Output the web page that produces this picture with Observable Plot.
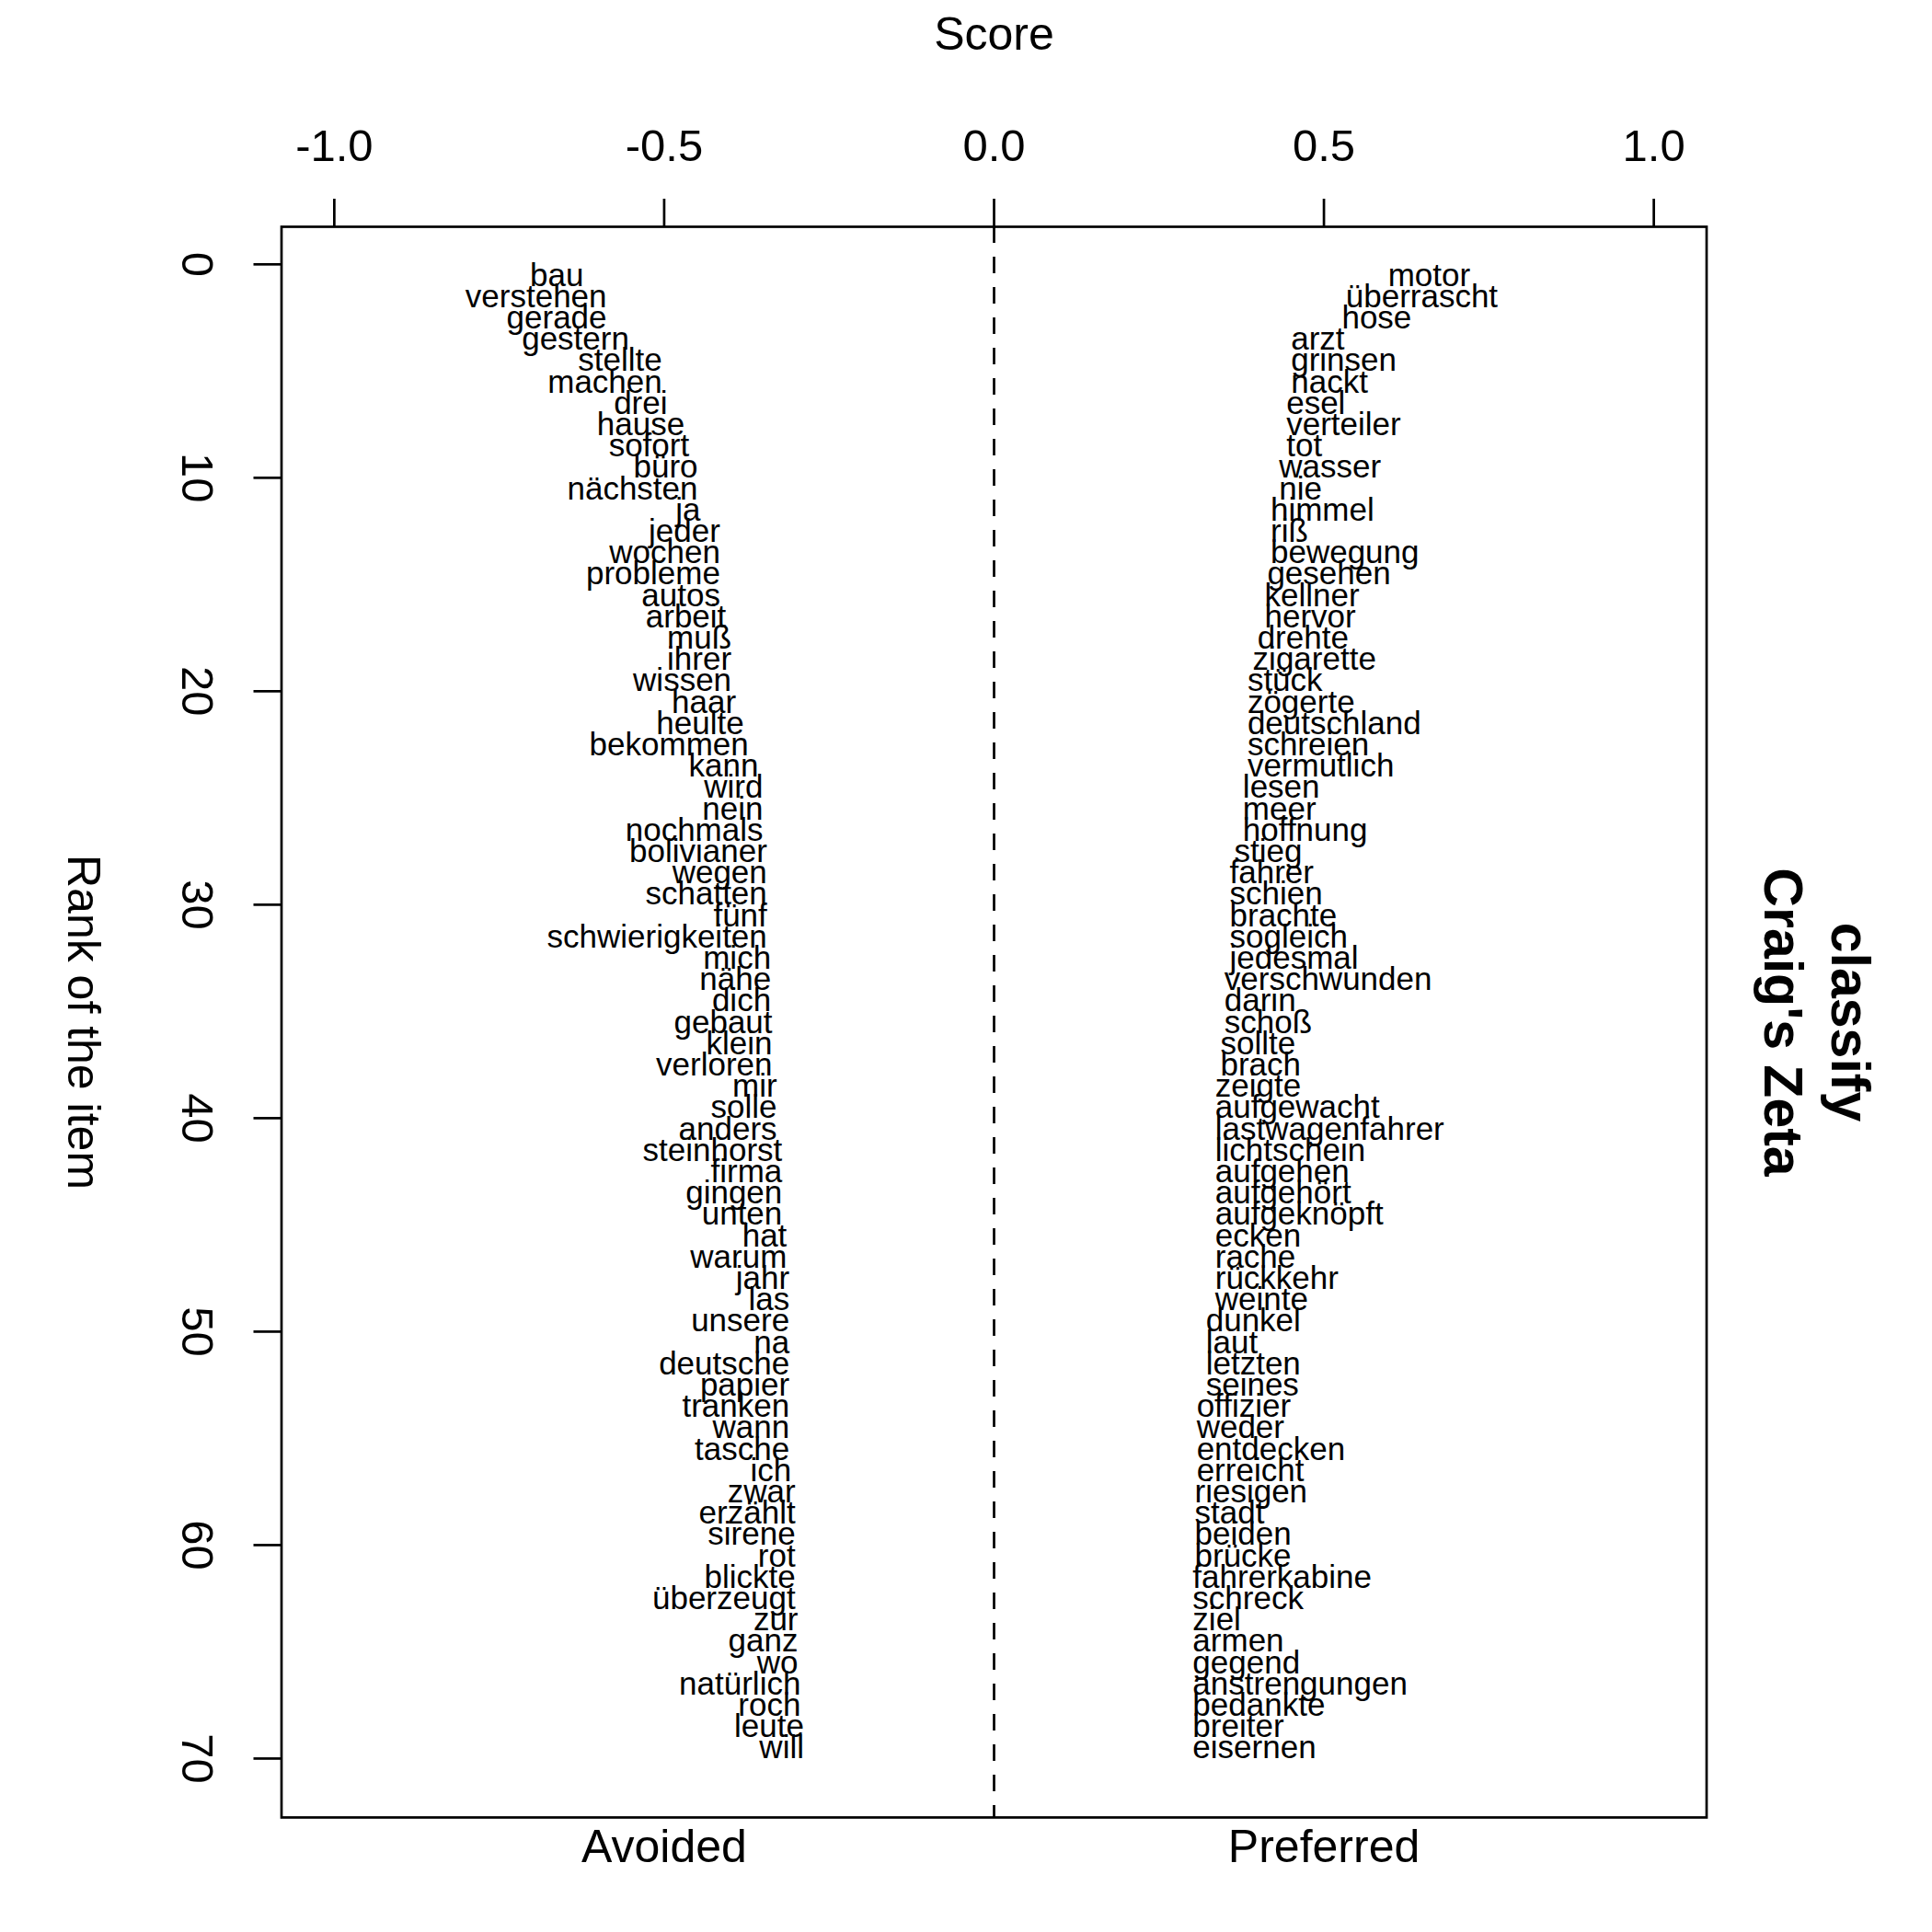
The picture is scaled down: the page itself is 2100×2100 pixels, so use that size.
<!DOCTYPE html>
<html>
<head>
<meta charset="utf-8">
<script src="https://cdn.jsdelivr.net/npm/d3@7"></script>
<script src="https://cdn.jsdelivr.net/npm/@observablehq/plot@0.6"></script>
<style>
  html, body { margin: 0; padding: 0; background: white; }
</style>
</head>
<body>
<div id="chart"></div>
<script>
const avoidedWords = ["bau","verstehen","gerade","gestern","stellte","machen","drei","hause","sofort","büro",
  "nächsten","ja","jeder","wochen","probleme","autos","arbeit","muß","ihrer","wissen",
  "haar","heulte","bekommen","kann","wird","nein","nochmals","bolivianer","wegen","schatten",
  "fünf","schwierigkeiten","mich","nähe","dich","gebaut","klein","verloren","mir","solle",
  "anders","steinhorst","firma","gingen","unten","hat","warum","jahr","las","unsere",
  "na","deutsche","papier","tranken","wann","tasche","ich","zwar","erzählt","sirene",
  "rot","blickte","überzeugt","zur","ganz","wo","natürlich","roch","leute","will"];
const avoidedScores = [-0.622,-0.587,-0.587,-0.553,-0.503,-0.503,-0.495,-0.469,-0.462,-0.449,
  -0.449,-0.445,-0.415,-0.415,-0.415,-0.415,-0.406,-0.398,-0.398,-0.398,
  -0.391,-0.379,-0.372,-0.357,-0.350,-0.350,-0.350,-0.344,-0.344,-0.344,
  -0.344,-0.344,-0.338,-0.338,-0.338,-0.336,-0.336,-0.336,-0.329,-0.329,
  -0.329,-0.321,-0.321,-0.321,-0.321,-0.314,-0.314,-0.310,-0.310,-0.310,
  -0.310,-0.310,-0.310,-0.310,-0.310,-0.310,-0.307,-0.301,-0.301,-0.301,
  -0.301,-0.301,-0.301,-0.297,-0.297,-0.297,-0.293,-0.293,-0.288,-0.288];

const preferredWords = ["motor","überrascht","hose","arzt","grinsen","nackt","esel","verteiler","tot","wasser",
  "nie","himmel","riß","bewegung","gesehen","kellner","hervor","drehte","zigarette","stück",
  "zögerte","deutschland","schreien","vermutlich","lesen","meer","hoffnung","stieg","fahrer","schien",
  "brachte","sogleich","jedesmal","verschwunden","darin","schoß","sollte","brach","zeigte","aufgewacht",
  "lastwagenfahrer","lichtschein","aufgehen","aufgehört","aufgeknöpft","ecken","rache","rückkehr","weinte","dunkel",
  "laut","letzten","seines","offizier","weder","entdecken","erreicht","riesigen","stadt","beiden",
  "brücke","fahrerkabine","schreck","ziel","armen","gegend","anstrengungen","bedankte","breiter","eisernen"];
const preferredScores = [0.597,0.533,0.527,0.450,0.450,0.450,0.443,0.443,0.443,0.432,
  0.432,0.419,0.419,0.419,0.414,0.410,0.410,0.399,0.392,0.384,
  0.384,0.384,0.384,0.384,0.377,0.377,0.377,0.364,0.357,0.357,
  0.357,0.357,0.357,0.349,0.349,0.349,0.343,0.343,0.335,0.335,
  0.335,0.335,0.335,0.335,0.335,0.335,0.335,0.335,0.335,0.321,
  0.321,0.321,0.321,0.307,0.307,0.307,0.307,0.304,0.304,0.304,
  0.304,0.301,0.301,0.301,0.301,0.301,0.301,0.301,0.301,0.301];

const xTicks = [-1, -0.5, 0, 0.5, 1];
const yTicks = [0, 10, 20, 30, 40, 50, 60, 70];
const sideTicks = [-0.5, 0.5];
const sideLabels = ["Avoided", "Preferred"];
const xTitle = "Score";
const yTitle = "Rank of the item";
const mainTitle = "Craig's Zeta";
const subTitle = "classify";

const avoided = avoidedWords.map((w, i) => ({word: w, score: avoidedScores[i], rank: i + 1}));
const preferred = preferredWords.map((w, i) => ({word: w, score: preferredScores[i], rank: i + 1}));

const LW = 2.7;
const chart = Plot.plot({
  width: 2100,
  height: 2100,
  marginLeft: 305.5,
  marginRight: 245.5,
  marginTop: 246,
  marginBottom: 125,
  style: {fontFamily: "'Liberation Sans', Arial, Helvetica, sans-serif", fontSize: "35px", background: "white", color: "black"},
  x: {domain: [-1.08, 1.08], label: null},
  y: {domain: [-1.76, 72.76], reverse: true, label: null},
  marks: [
    Plot.ruleX([0], {stroke: "black", strokeWidth: LW, strokeDasharray: "18,15"}),
    Plot.text(avoided, {x: "score", y: "rank", text: "word", textAnchor: "end", lineAnchor: "bottom", fontSize: 35, fill: "black"}),
    Plot.text(preferred, {x: "score", y: "rank", text: "word", textAnchor: "start", lineAnchor: "bottom", fontSize: 35, fill: "black"}),
    Plot.frame({stroke: "black", strokeWidth: LW}),
    Plot.axisX({anchor: "top", ticks: xTicks, tickSize: 31, tickPadding: 41, tickFormat: d => d.toFixed(1), fontSize: 49, strokeWidth: LW, label: null}),
    Plot.axisX({anchor: "bottom", ticks: sideTicks, tickSize: 0, tickPadding: 13, tickFormat: d => sideLabels[sideTicks.indexOf(d)], fontSize: 50, label: null}),
    Plot.axisY({anchor: "left", ticks: yTicks, tickSize: 30, tickRotate: 90, tickPadding: 43, fontSize: 49, strokeWidth: LW, label: null}),
    Plot.text([xTitle], {frameAnchor: "top", text: d => d, dy: -209, fontSize: 50, textAnchor: "middle", lineAnchor: "middle", fill: "black"}),
    Plot.text([yTitle], {frameAnchor: "left", text: d => d, rotate: 90, dx: -216.5, fontSize: 50, textAnchor: "middle", lineAnchor: "middle", fill: "black"}),
    Plot.text([mainTitle], {frameAnchor: "right", text: d => d, rotate: 90, dx: 62.5, fontSize: 59, fontWeight: "bold", textAnchor: "middle", lineAnchor: "bottom", fill: "black"}),
    Plot.text([subTitle], {frameAnchor: "right", text: d => d, rotate: 90, dx: 135.5, fontSize: 59, fontWeight: "bold", textAnchor: "middle", lineAnchor: "bottom", fill: "black"})
  ]
});
document.getElementById("chart").appendChild(chart);
</script>
</body>
</html>
